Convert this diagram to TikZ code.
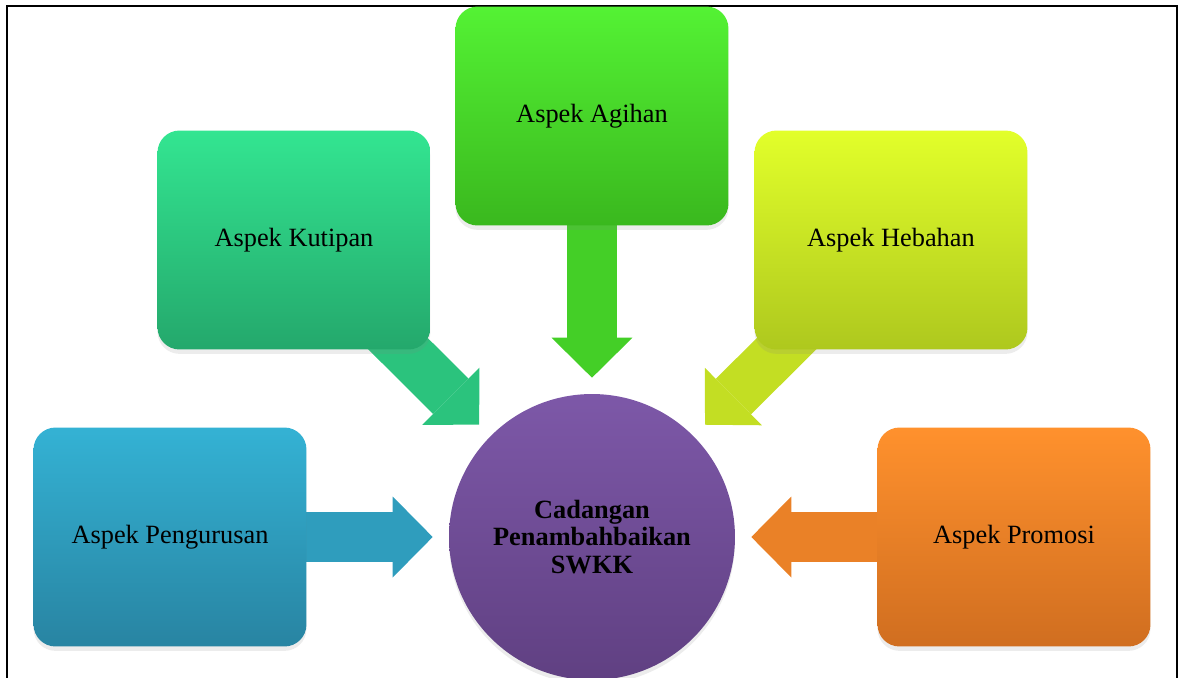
\documentclass[tikz,border=0pt]{standalone}
\usepackage{fontspec}
\setmainfont{Liberation Serif}
\usetikzlibrary{arrows.meta,positioning,shadows,backgrounds}

\definecolor{kutA}{RGB}{51,229,145}
\definecolor{kutB}{RGB}{36,168,108}
\definecolor{agiA}{RGB}{84,242,52}
\definecolor{agiB}{RGB}{58,184,30}
\definecolor{hebA}{RGB}{226,255,42}
\definecolor{hebB}{RGB}{174,200,30}
\definecolor{pngA}{RGB}{52,178,212}
\definecolor{pngB}{RGB}{40,132,162}
\definecolor{proA}{RGB}{255,145,45}
\definecolor{proB}{RGB}{208,110,32}
\definecolor{cadA}{RGB}{125,88,168}
\definecolor{cadB}{RGB}{96,64,130}

\tikzset{
  aspek/.style={rectangle, rounded corners=0.44cm, minimum width=5.46cm, minimum height=4.38cm,
    inner sep=2pt, font=\fontsize{15}{18}\selectfont,
    drop shadow={shadow xshift=0pt, shadow yshift=-2.5pt, opacity=0.15}},
  panah/.style={line width=1cm, -{Triangle[length=0.8cm, width=1.62cm, line width=0pt]}, shorten >=0.32cm}
}

\begin{document}
\begin{tikzpicture}[x=0.02cm, y=-0.02cm]

\clip (0,0) rectangle (1181,677);

% Frame
\draw[line width=1.2pt] (7,6) rectangle (1177,720);

% Centre circle
\node[circle, minimum size=5.72cm, inner sep=0pt, top color=cadA, bottom color=cadB,
  drop shadow={shadow xshift=0pt, shadow yshift=-2.5pt, opacity=0.15}, align=center,
  font=\fontsize{15}{15.5}\selectfont\bfseries] (cad) at (592,537)
  {Cadangan\\Penambahbaikan\\SWKK};

% Aspect boxes
\node[aspek, top color=kutA, bottom color=kutB] (kut) at (294,240) {Aspek Kutipan};
\node[aspek, top color=agiA, bottom color=agiB] (agi) at (592,116) {Aspek Agihan};
\node[aspek, top color=hebA, bottom color=hebB] (heb) at (891,240) {Aspek Hebahan};
\node[aspek, top color=pngA, bottom color=pngB] (png) at (170,537) {Aspek Pengurusan};
\node[aspek, top color=proA, bottom color=proB] (pro) at (1014,537) {Aspek Promosi};

% Block arrows into the circle
\begin{scope}[on background layer]
\draw[panah, color=kutA!45!kutB] (kut.center) -- (cad);
\draw[panah, color=agiA!40!agiB] (agi.center) -- (cad);
\draw[panah, color=hebA!40!hebB] (heb.center) -- (cad);
\draw[panah, color=pngA!55!pngB] (png.center) -- (cad);
\draw[panah, color=proA!55!proB] (pro.center) -- (cad);
\end{scope}

\end{tikzpicture}
\end{document}
